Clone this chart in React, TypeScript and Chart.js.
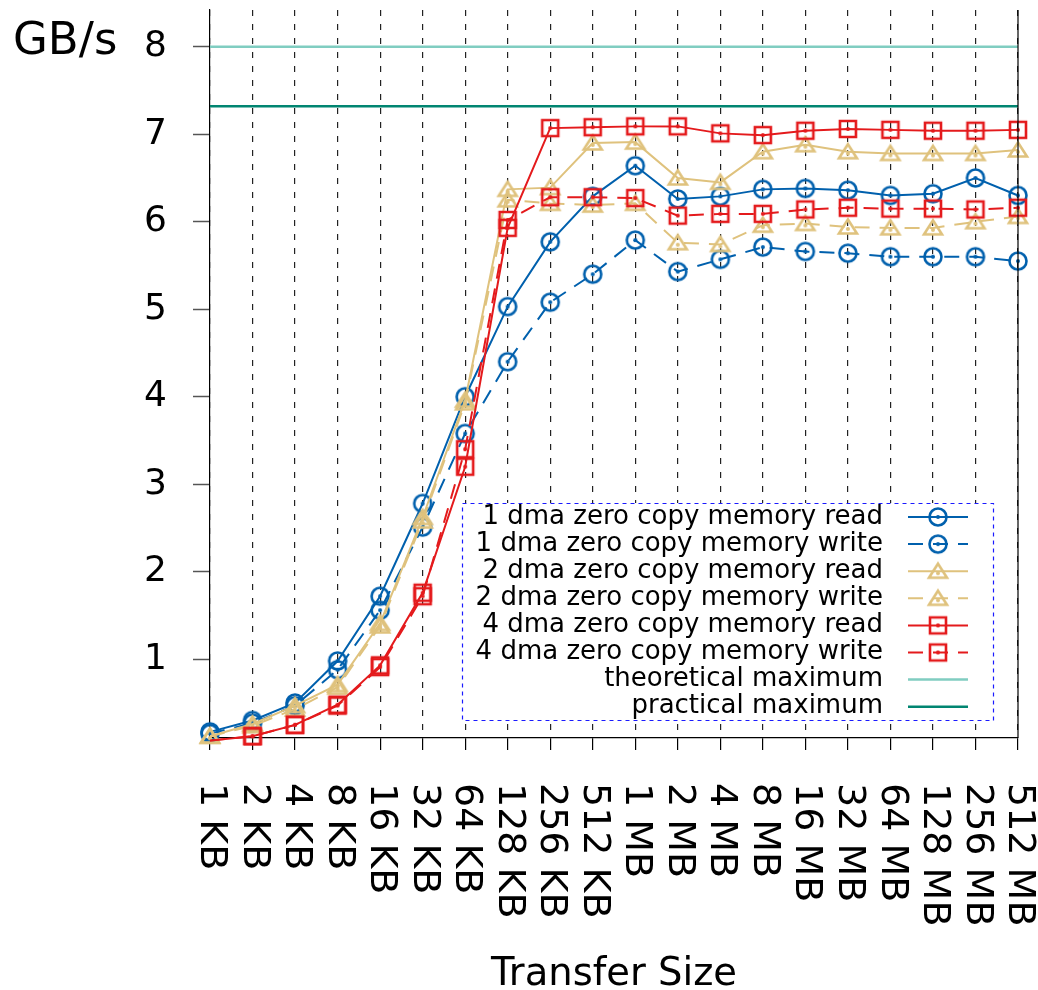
import React, { useEffect, useRef } from 'react';
import { Chart, registerables } from 'chart.js';

Chart.register(...registerables);

const X_LABELS = ['1 KB', '2 KB', '4 KB', '8 KB', '16 KB', '32 KB', '64 KB', '128 KB', '256 KB', '512 KB',
  '1 MB', '2 MB', '4 MB', '8 MB', '16 MB', '32 MB', '64 MB', '128 MB', '256 MB', '512 MB'];
const Y_TICKS = [1, 2, 3, 4, 5, 6, 7, 8];
const Y_MIN = 0.1;
const Y_MAX = 8.42;

const DMA1_READ = [0.17, 0.30, 0.50, 0.98, 1.72, 2.78, 4.00, 5.03, 5.77, 6.29, 6.64, 6.26, 6.29, 6.37, 6.38, 6.36, 6.30, 6.32, 6.50, 6.30];
const DMA1_WRITE = [0.15, 0.27, 0.47, 0.88, 1.56, 2.51, 3.58, 4.40, 5.08, 5.40, 5.79, 5.43, 5.57, 5.71, 5.66, 5.64, 5.60, 5.60, 5.60, 5.55];
const DMA2_READ = [0.12, 0.26, 0.47, 0.71, 1.41, 2.62, 3.96, 6.37, 6.39, 6.90, 6.91, 6.50, 6.45, 6.80, 6.88, 6.80, 6.78, 6.78, 6.78, 6.82];
const DMA2_WRITE = [0.12, 0.24, 0.43, 0.68, 1.38, 2.58, 3.93, 6.25, 6.21, 6.19, 6.21, 5.76, 5.74, 5.96, 5.98, 5.94, 5.93, 5.93, 6.00, 6.06];
const DMA4_READ = [0.07, 0.12, 0.25, 0.48, 0.93, 1.76, 3.20, 5.93, 7.07, 7.08, 7.09, 7.09, 7.01, 6.99, 7.04, 7.06, 7.05, 7.04, 7.04, 7.05];
const DMA4_WRITE = [0.07, 0.12, 0.25, 0.47, 0.91, 1.72, 3.40, 6.02, 6.28, 6.28, 6.27, 6.07, 6.09, 6.09, 6.14, 6.16, 6.15, 6.15, 6.14, 6.16];
const THEORETICAL_MAX = 8;
const PRACTICAL_MAX = 7.32;

const SERIES_LABELS = [
  '1 dma zero copy memory read',
  '1 dma zero copy memory write',
  '2 dma zero copy memory read',
  '2 dma zero copy memory write',
  '4 dma zero copy memory read',
  '4 dma zero copy memory write',
  'theoretical maximum',
  'practical maximum',
];
const Y_TITLE = 'GB/s';
const X_TITLE = 'Transfer Size';

const BLUE = '#0060ad';
const TAN = '#dfc27d';
const RED = '#e41a1c';
const TEAL_LIGHT = '#80cdc1';
const TEAL_DARK = '#018571';
const FONT = 'DejaVu Sans';
const WRITE_DASH = [15, 10];

function makeMarker(kind: string, color: string): HTMLCanvasElement {
  const size = 28;
  const c = document.createElement('canvas');
  c.width = size;
  c.height = size;
  const g = c.getContext('2d') as CanvasRenderingContext2D;
  const m = size / 2;
  g.strokeStyle = color;
  g.fillStyle = color;
  g.lineWidth = 2.6;
  g.beginPath();
  if (kind === 'circle') {
    g.arc(m, m, 8.5, 0, Math.PI * 2);
  } else if (kind === 'square') {
    g.rect(m - 8, m - 8, 16, 16);
  } else {
    g.moveTo(m, m - 7.5);
    g.lineTo(m + 9, m + 6.5);
    g.lineTo(m - 9, m + 6.5);
    g.closePath();
  }
  g.stroke();
  g.beginPath();
  g.arc(m, kind === 'triangle' ? m + 2 : m, 2, 0, Math.PI * 2);
  g.fill();
  return c;
}

export default function App() {
  const ref = useRef<HTMLCanvasElement | null>(null);

  useEffect(() => {
    if (!ref.current) return;
    const circleB = makeMarker('circle', BLUE);
    const triT = makeMarker('triangle', TAN);
    const sqR = makeMarker('square', RED);

    const radiusFn = (ctx: any) => {
      const v = ctx.raw;
      const y = typeof v === 'number' ? v : v && v.y;
      return y < Y_MIN ? 0 : 8;
    };
    const clip = { left: 20, right: 20, top: 20, bottom: 8 };

    const series = [
      { data: DMA1_READ, color: BLUE, marker: circleB, dash: [] as number[] },
      { data: DMA1_WRITE, color: BLUE, marker: circleB, dash: WRITE_DASH },
      { data: DMA2_READ, color: TAN, marker: triT, dash: [] as number[] },
      { data: DMA2_WRITE, color: TAN, marker: triT, dash: WRITE_DASH },
      { data: DMA4_READ, color: RED, marker: sqR, dash: [] as number[] },
      { data: DMA4_WRITE, color: RED, marker: sqR, dash: WRITE_DASH },
    ];

    const datasets: any[] = series.map((s, i) => ({
      label: SERIES_LABELS[i],
      data: s.data,
      borderColor: s.color,
      backgroundColor: s.color,
      borderWidth: 2,
      borderDash: s.dash,
      pointStyle: s.marker,
      pointRadius: radiusFn,
      pointHoverRadius: 0,
      fill: false,
      tension: 0,
      clip,
      order: 10 - i,
    }));
    const last = X_LABELS[X_LABELS.length - 1];
    datasets.push({
      label: SERIES_LABELS[6],
      data: [{ x: X_LABELS[0], y: THEORETICAL_MAX }, { x: last, y: THEORETICAL_MAX }],
      borderColor: TEAL_LIGHT,
      borderWidth: 2.5,
      pointRadius: 0,
      pointHoverRadius: 0,
      fill: false,
      order: 2,
    });
    datasets.push({
      label: SERIES_LABELS[7],
      data: [{ x: X_LABELS[0], y: PRACTICAL_MAX }, { x: last, y: PRACTICAL_MAX }],
      borderColor: TEAL_DARK,
      borderWidth: 2.5,
      pointRadius: 0,
      pointHoverRadius: 0,
      fill: false,
      order: 1,
    });

    const decor = {
      id: 'decor',
      afterDraw(chart: any) {
        const ctx = chart.ctx as CanvasRenderingContext2D;
        const area = chart.chartArea;
        const xs = chart.scales.x;
        ctx.save();
        // right border
        ctx.strokeStyle = '#000';
        ctx.lineWidth = 1.2;
        ctx.beginPath();
        ctx.moveTo(area.right, area.top);
        ctx.lineTo(area.right, area.bottom);
        ctx.stroke();

        // x tick labels, rotated clockwise
        ctx.fillStyle = '#000';
        ctx.font = `38px "${FONT}"`;
        ctx.textAlign = 'left';
        ctx.textBaseline = 'middle';
        X_LABELS.forEach((lab, i) => {
          const x = xs.getPixelForTick(i);
          ctx.save();
          ctx.translate(x + 1, area.bottom + 45);
          ctx.rotate(Math.PI / 2);
          ctx.fillText(lab, 0, 0);
          ctx.restore();
        });

        // titles
        ctx.textBaseline = 'alphabetic';
        ctx.font = `45px "${FONT}"`;
        ctx.textAlign = 'left';
        ctx.fillText(Y_TITLE, 13, 54);
        ctx.font = `38.5px "${FONT}"`;
        ctx.textAlign = 'center';
        ctx.fillText(X_TITLE, (area.left + area.right) / 2, 985);

        // legend
        const bx = 462, by = 503, bw = 531, bh = 217;
        ctx.fillStyle = '#fff';
        ctx.fillRect(bx, by, bw, bh);
        ctx.strokeStyle = '#1a1aff';
        ctx.lineWidth = 1.2;
        ctx.setLineDash([4, 4]);
        ctx.strokeRect(bx + 0.5, by + 0.5, bw, bh);
        ctx.setLineDash([]);
        ctx.font = `26px "${FONT}"`;
        ctx.textAlign = 'right';
        ctx.textBaseline = 'middle';
        chart.data.datasets.forEach((ds: any, i: number) => {
          const y = 517 + i * 27.1;
          ctx.fillStyle = '#000';
          ctx.fillText(ds.label, 883, y);
          ctx.strokeStyle = ds.borderColor;
          ctx.lineWidth = ds.borderWidth;
          ctx.setLineDash(ds.borderDash || []);
          ctx.beginPath();
          ctx.moveTo(908, y);
          ctx.lineTo(968, y);
          ctx.stroke();
          ctx.setLineDash([]);
          if (ds.pointStyle && typeof ds.pointStyle === 'object') {
            const img = ds.pointStyle as HTMLCanvasElement;
            ctx.drawImage(img, 938 - img.width / 2, y - img.height / 2);
          }
        });
        ctx.restore();
      },
    };

    const chart = new Chart(ref.current, {
      type: 'line',
      data: { labels: X_LABELS, datasets },
      options: {
        animation: false,
        responsive: false,
        devicePixelRatio: 1,
        layout: { padding: { top: 8, right: 20, left: 0, bottom: 0 } },
        plugins: { legend: { display: false }, tooltip: { enabled: false } },
        scales: {
          x: {
            type: 'category',
            offset: false,
            grid: {
              display: true,
              drawOnChartArea: true,
              drawTicks: true,
              tickLength: 12,
              color: '#222',
              lineWidth: 1.2,
              tickColor: '#000',
              tickWidth: 1.2,
            },
            border: { display: true, color: '#000', width: 1.2, dash: [6, 8] },
            ticks: { display: false },
            afterFit: (s: any) => {
              s.height = 252;
              s.paddingLeft = 0;
              s.paddingRight = 0;
            },
          },
          y: {
            type: 'linear',
            min: Y_MIN,
            max: Y_MAX,
            afterBuildTicks: (s: any) => {
              s.ticks = Y_TICKS.map((v) => ({ value: v }));
            },
            grid: {
              drawOnChartArea: false,
              drawTicks: true,
              tickLength: 17,
              tickColor: '#555',
              tickWidth: 1.5,
            },
            border: { display: true, color: '#000', width: 1.2 },
            ticks: {
              font: { family: FONT, size: 36 },
              color: '#000',
              padding: 26,
            },
            afterFit: (s: any) => {
              s.width = 210;
              s.paddingTop = 0;
              s.paddingBottom = 0;
            },
          },
        },
      },
      plugins: [decor],
    } as any);

    return () => chart.destroy();
  }, []);

  return (
    <div style={{ position: 'absolute', left: 0, top: 0, width: 1038, height: 990, background: '#fff' }}>
      <canvas ref={ref} width={1038} height={990} style={{ display: 'block', width: 1038, height: 990 }} />
    </div>
  );
}
